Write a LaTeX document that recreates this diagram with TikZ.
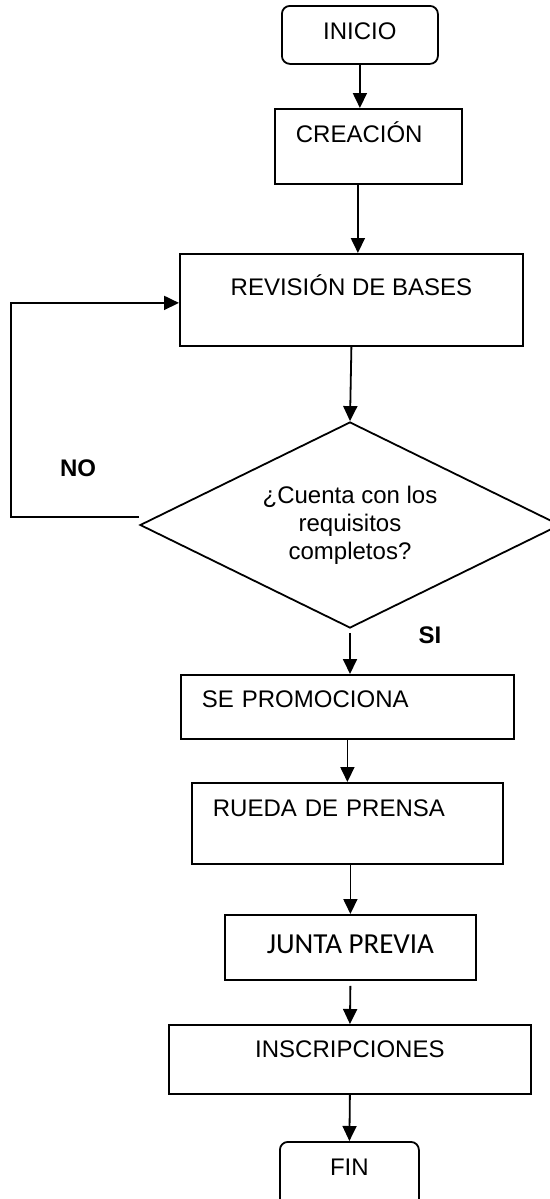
\documentclass[tikz,border=0pt]{standalone}
\usepackage{fontspec}
\setmainfont{Liberation Sans}
\newfontfamily\calibri{Carlito}
\usetikzlibrary{arrows.meta,shapes.geometric}
\tikzset{
	caja/.style={draw, line width=0.9pt, inner xsep=0pt, inner ysep=0pt,
			anchor=north west, font=\fontsize{12pt}{14pt}\selectfont},
	izq/.style={inner xsep=10.5pt, text width=#1, align=left},
	terminal/.style={caja, rounded corners=4pt},
	decision/.style={draw, diamond, line width=0.9pt, aspect=2, inner sep=0pt,
			align=center, minimum width=210pt, minimum height=103pt,
			font=\fontsize{12pt}{14pt}\selectfont},
	etiqueta/.style={font=\fontsize{12pt}{14pt}\selectfont\bfseries},
	flecha/.style={line width=0.9pt, -{Triangle[length=7.5pt,width=7pt]}}
}

\begin{document}
\begin{tikzpicture}[x=0.5pt,y=-0.5pt]
		\useasboundingbox (0,0) rectangle (550,1199);
		\clip (0,0) rectangle (550,1199);

		% Steps of the process
		\node[terminal, minimum width=78pt, text height=17pt, text depth=12pt] (inicio) at (281,5) {INICIO};
		\node[caja, izq=72.5pt, text height=17pt, text depth=20.5pt] (creacion) at (274,108) {CREACIÓN};
		\node[caja, minimum width=171.5pt, text height=21pt, text depth=25pt] (revision) at (179,253) {REVISIÓN DE BASES};
		\node[decision] (dec) at (350,525) {¿Cuenta con los\\requisitos\\completos?};
		\node[caja, izq=145.5pt, text height=16.5pt, text depth=15.5pt] (promo) at (180,674) {SE PROMOCIONA};
		\node[caja, izq=134.5pt, text height=17pt, text depth=23.5pt] (rueda) at (191,782) {RUEDA DE PRENSA};
		\node[caja, minimum width=125.5pt, text height=19.5pt, text depth=13pt,
			font=\calibri\fontsize{14.5pt}{16pt}\selectfont] (junta) at (224,914) {JUNTA PREVIA};
		\node[caja, minimum width=181pt, text height=16.5pt, text depth=18pt] (inscr) at (168,1024) {INSCRIPCIONES};
		\node[terminal, minimum width=69.5pt, text height=17pt, text depth=20pt] (fin) at (279,1141) {FIN};

		% Answers of the decision
		\node[etiqueta] (no) at (78,468) {NO};
		\node[etiqueta] (si) at (430,635) {SI};

		% Connectors
		\draw[flecha] (inicio.south) -- (inicio.south |- creacion.north);
		\draw[flecha] ([xshift=-5.25pt]creacion.south) -- ([xshift=-5.25pt]creacion.south |- revision.north);
		\draw[flecha] (revision.south) -- (dec.north);
		\draw[flecha] ([yshift=4pt]dec.west) -- ++(-128,0) |- ([yshift=-1.5pt]revision.west);
		\draw[flecha] ([yshift=-2pt]dec.south) -- (dec.south |- promo.north);
		\draw[flecha] (promo.south) -- (promo.south |- rueda.north);
		\draw[flecha] (rueda.south -| junta.north) -- (junta.north);
		\draw[flecha] ([yshift=-2.5pt]junta.south) -- (inscr.north);
		\draw[flecha] (inscr.south) -- (fin.north);
	\end{tikzpicture}
\end{document}
